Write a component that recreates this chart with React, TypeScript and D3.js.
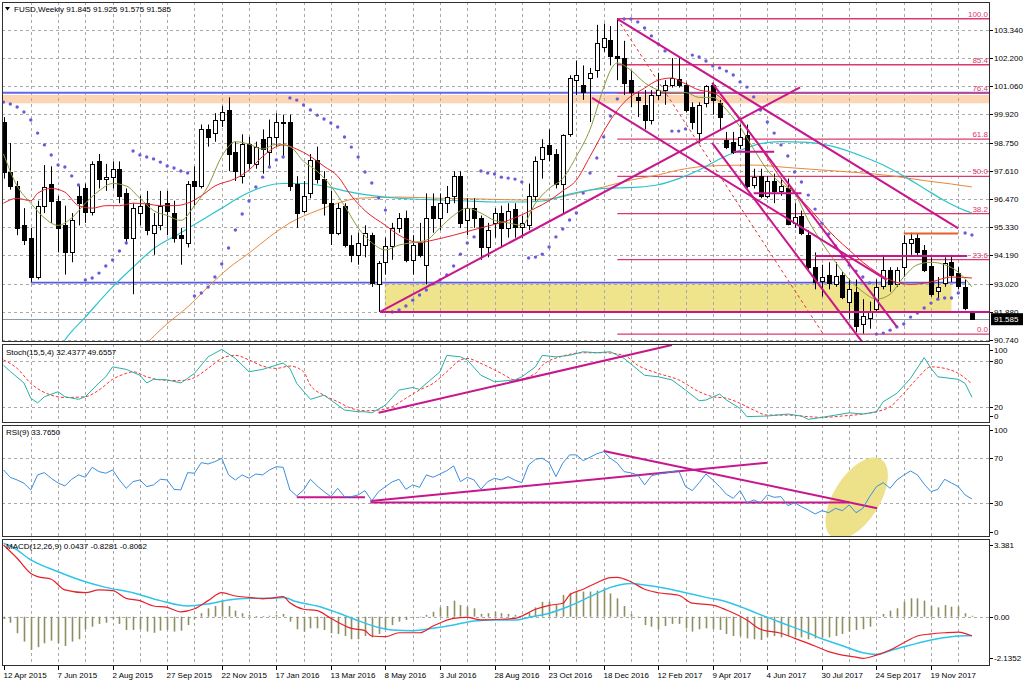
import React from "react";
import * as d3 from "d3";

// ---------- DATA ----------
const openP = [
  99.6, 97.55, 97.0, 95.4, 94.9, 93.3, 96.2, 97.1, 96.4, 95.4,
  94.3, 96.6, 96.9, 95.95, 98.0, 97.3, 97.35, 97.7, 96.7, 94.9,
  95.9, 96.3, 95.1, 95.4, 96.3, 95.9, 95.0, 94.7, 97.2, 97.0,
  99.3, 99.15, 99.7, 100.1, 98.4, 97.4, 98.7, 97.9, 98.9, 98.4,
  99.0, 99.55, 99.6, 97.1, 96.0, 96.7, 98.06, 97.3, 96.3, 95.1,
  96.2, 94.6, 94.2, 94.6, 95.0, 93.0, 93.9, 94.55, 95.3, 95.7,
  94.0, 94.7, 93.8, 96.2, 95.7, 96.3, 96.6, 97.4, 95.6, 96.1,
  95.7, 94.5, 95.5, 95.9, 95.3, 96.06, 95.33, 95.4, 96.6, 98.1,
  98.66, 98.3, 97.1, 99.1, 101.3, 101.1, 101.4, 101.7, 102.65, 102.93,
  102.3, 102.2, 101.3, 100.6, 100.3, 99.7, 100.7, 100.9, 101.1, 101.35,
  101.1, 100.2, 99.15, 100.37, 101.1, 100.37, 98.87, 98.8, 98.66, 99.07,
  97.04, 97.4, 96.6, 97.2, 96.8, 96.9, 95.5, 95.8, 95.0, 93.7,
  93.15, 93.4, 93.0, 93.4, 92.3, 92.7, 91.4, 91.65, 92.0, 92.95,
  93.6, 93.0, 93.7, 94.7, 94.9, 94.4, 93.75, 92.75, 93.05, 93.9,
  93.45, 92.9, 91.845,
];
const highP = [
  99.8, 98.75, 97.2, 96.1, 95.3, 96.4, 97.85, 97.8, 96.6, 96.2,
  95.9, 97.0, 97.1, 98.0, 98.3, 97.9, 98.0, 98.0, 96.9, 96.3,
  96.6, 96.8, 95.9, 96.8, 96.8, 96.4, 95.3, 97.2, 97.8, 99.5,
  99.5, 99.96, 100.25, 100.6, 98.8, 99.1, 99.0, 98.8, 99.3, 99.7,
  99.96, 99.9, 99.9, 97.4, 97.2, 98.3, 98.6, 97.6, 96.8, 96.3,
  96.3, 95.0, 95.1, 95.4, 95.1, 93.95, 94.9, 95.5, 95.9, 96.0,
  95.0, 95.5, 96.7, 96.7, 96.7, 97.0, 97.6, 97.6, 96.5, 96.5,
  95.8, 95.5, 96.1, 96.2, 96.3, 96.3, 95.8, 97.1, 98.2, 98.9,
  99.3, 98.5, 99.1, 101.5, 102.1, 101.9, 101.8, 103.55, 103.6, 103.5,
  103.8, 102.9, 101.7, 100.8, 100.9, 100.9, 101.6, 101.3, 102.2, 102.2,
  101.2, 100.4, 100.4, 101.1, 101.2, 100.5, 99.2, 99.2, 99.5, 99.5,
  97.7, 97.7, 97.4, 97.5, 97.3, 97.3, 96.3, 96.0, 95.2, 94.3,
  93.8, 93.9, 93.9, 93.5, 93.2, 93.2, 92.4, 92.3, 93.2, 94.2,
  93.7, 93.7, 95.0, 95.1, 95.05, 94.6, 94.1, 93.3, 94.1, 94.2,
  93.7, 93.2, 91.925,
];
const lowP = [
  97.3, 96.85, 95.0, 94.6, 93.1, 93.2, 95.9, 95.5, 94.3, 93.4,
  93.9, 95.4, 95.5, 95.8, 96.9, 96.8, 96.9, 96.3, 94.7, 92.6,
  95.4, 95.0, 94.2, 95.2, 95.0, 94.7, 93.8, 94.5, 96.2, 96.9,
  98.6, 98.8, 99.4, 97.6, 97.2, 97.1, 97.7, 97.7, 97.5, 97.8,
  98.6, 98.2, 96.8, 95.3, 95.9, 96.5, 97.1, 95.8, 94.6, 95.0,
  94.5, 93.9, 93.8, 94.1, 92.9, 91.88, 93.4, 94.0, 95.1, 93.9,
  93.4, 94.1, 93.0, 95.1, 95.2, 95.9, 96.3, 95.3, 95.0, 95.3,
  94.0, 94.1, 94.9, 94.5, 94.9, 94.9, 94.9, 95.2, 96.4, 97.3,
  98.0, 96.9, 95.9, 99.0, 100.7, 100.5, 99.6, 101.4, 102.45, 101.9,
  101.3, 100.7, 100.2, 99.8, 99.3, 99.5, 100.5, 100.3, 101.0, 101.0,
  100.0, 99.3, 98.75, 100.2, 99.9, 99.3, 98.5, 98.3, 98.5, 96.9,
  96.9, 96.5, 96.5, 96.3, 96.6, 95.4, 95.3, 95.0, 93.6, 92.8,
  92.5, 92.8, 92.9, 92.4, 91.6, 91.05, 91.0, 91.2, 91.9, 92.8,
  92.7, 92.9, 93.3, 94.2, 94.2, 93.5, 92.5, 92.4, 92.9, 93.1,
  92.8, 91.95, 91.575,
];
const closeP = [
  97.55, 97.0, 95.3, 94.8, 93.3, 96.2, 96.95, 96.4, 95.3, 94.3,
  95.6, 96.3, 95.95, 97.9, 97.3, 97.35, 97.7, 96.6, 94.9, 96.1,
  96.2, 95.2, 95.4, 96.2, 96.0, 94.9, 94.9, 97.1, 97.0, 99.3,
  99.0, 99.7, 100.0, 98.3, 97.6, 98.7, 97.95, 98.6, 98.5, 99.0,
  99.6, 99.6, 97.0, 95.9, 96.6, 98.05, 97.3, 96.3, 95.1, 96.1,
  94.6, 94.2, 94.7, 95.1, 93.05, 93.85, 94.55, 95.3, 95.7, 94.0,
  94.6, 94.2, 95.7, 95.7, 96.3, 96.55, 97.4, 95.5, 96.1, 95.7,
  94.5, 95.2, 95.9, 95.3, 96.0, 95.33, 95.5, 96.6, 98.0, 98.6,
  98.3, 97.1, 99.07, 101.4, 101.5, 100.8, 101.6, 102.8, 103.0, 102.3,
  102.2, 101.2, 100.8, 100.5, 99.7, 100.7, 100.9, 101.1, 101.4, 101.1,
  100.1, 99.6, 100.3, 101.05, 100.5, 99.8, 98.6, 98.4, 99.0, 97.0,
  97.36, 96.6, 97.2, 96.8, 97.0, 95.45, 95.75, 95.1, 93.7, 93.1,
  93.3, 93.05, 93.35, 92.5, 92.8, 91.3, 91.7, 91.9, 92.9, 93.6,
  93.0, 93.6, 94.7, 94.85, 94.3, 93.6, 92.6, 92.9, 93.85, 93.4,
  92.95, 92.05, 91.585,
];

const dateLabels = [
  "12 Apr 2015", "7 Jun 2015", "2 Aug 2015", "27 Sep 2015", "22 Nov 2015",
  "17 Jan 2016", "13 Mar 2016", "8 May 2016", "3 Jul 2016", "28 Aug 2016",
  "23 Oct 2016", "18 Dec 2016", "12 Feb 2017", "9 Apr 2017", "4 Jun 2017",
  "30 Jul 2017", "24 Sep 2017", "19 Nov 2017",
];
const priceTicks = [103.34, 102.2, 101.06, 99.92, 98.75, 97.61, 96.47, 95.33, 94.19, 93.02, 91.88, 90.74];

// moving averages: [bar, price]
const maOlive: [number, number][] = [
  [0, 98.3], [2, 97.0], [4, 96.3], [6, 95.7], [8, 95.4], [10, 95.7], [12, 96.3], [14, 96.8],
  [16, 97.1], [18, 97.0], [20, 96.5], [22, 96.0], [24, 95.8], [26, 95.6], [28, 96.2], [30, 97.0],
  [32, 98.2], [34, 98.8], [36, 98.7], [38, 98.5], [40, 98.7], [42, 98.6], [44, 98.0], [46, 97.6],
  [48, 97.0], [50, 96.2], [52, 95.3], [54, 94.7], [56, 94.4], [58, 94.6], [60, 94.7], [62, 94.8],
  [64, 95.3], [66, 95.8], [68, 96.1], [70, 95.9], [72, 95.6], [74, 95.5], [76, 95.4], [78, 96.3],
  [80, 96.9], [82, 97.3], [84, 98.2], [86, 99.3], [88, 101.0], [89, 101.7], [90, 102.0], [92, 101.7],
  [94, 101.2], [96, 100.9], [98, 100.8], [100, 100.8], [102, 100.6], [104, 100.6], [106, 100.1],
  [108, 99.4], [110, 98.5], [112, 97.65], [114, 97.1], [116, 96.7], [118, 95.6], [120, 94.7],
  [122, 93.9], [124, 93.2], [126, 92.7], [128, 92.4], [130, 92.6], [132, 93.3], [134, 93.8],
  [136, 93.9], [138, 93.8], [140, 93.5], [142, 92.9],
];
const maRed: [number, number][] = [
  [0, 96.3], [2, 96.5], [4, 96.4], [5, 96.7], [7, 96.9], [9, 96.75], [11, 96.2], [13, 96.1],
  [15, 96.2], [17, 96.2], [19, 96.3], [21, 96.27], [23, 96.2], [25, 96.2], [27, 96.3], [29, 96.6],
  [31, 97.0], [34, 97.3], [36, 97.65], [38, 98.2], [41, 98.67], [43, 98.5], [45, 98.2], [47, 97.8],
  [49, 97.4], [51, 96.6], [53, 96.0], [56, 95.4], [58, 95.0], [61, 94.7], [63, 94.8], [66, 95.0],
  [70, 95.3], [74, 95.6], [78, 96.1], [80, 96.4], [82, 96.8], [84, 97.24], [86, 98.2], [89, 99.68],
  [91, 100.4], [94, 100.98], [96, 101.3], [98, 101.39], [100, 101.15], [102, 100.9], [104, 100.8],
  [106, 100.37], [108, 99.76], [110, 98.95], [112, 98.14], [114, 97.3], [116, 96.7], [118, 96.14],
  [120, 95.5], [122, 94.9], [124, 94.4], [126, 93.9], [128, 93.5], [130, 93.18], [133, 93.0],
  [136, 93.1], [139, 93.3], [142, 93.26],
];
const maCyan: [number, number][] = [
  [8, 90.3], [9, 90.74], [12, 91.67], [16, 92.9], [19, 93.7], [22, 94.45], [26, 95.1], [29, 95.6],
  [32, 96.1], [35, 96.6], [38, 96.96], [41, 97.1], [44, 97.1], [47, 97.0], [50, 96.8], [53, 96.65],
  [56, 96.55], [60, 96.47], [64, 96.43], [68, 96.39], [72, 96.35], [76, 96.35], [79, 96.39],
  [83, 96.67], [88, 96.9], [93, 96.95], [96, 97.05], [99, 97.3], [102, 97.65], [105, 98.1],
  [108, 98.45], [111, 98.72], [114, 98.8], [117, 98.78], [120, 98.7], [123, 98.5], [126, 98.2],
  [129, 97.85], [132, 97.4], [135, 96.9], [138, 96.4], [141, 96.0], [142, 95.9],
];
const maOrange: [number, number][] = [
  [20, 90.3], [21, 90.6], [24, 91.4], [27, 92.08], [30, 92.9], [33, 93.66], [36, 94.27], [39, 94.93],
  [42, 95.5], [46, 96.0], [49, 96.3], [52, 96.5], [58, 96.55], [64, 96.5], [70, 96.47], [76, 96.43],
  [80, 96.47], [84, 96.7], [88, 96.96], [92, 97.24], [96, 97.45], [99, 97.65], [104, 97.82],
  [110, 97.85], [115, 97.75], [120, 97.65], [125, 97.55], [130, 97.42], [135, 97.22], [139, 97.08],
  [142, 96.96],
];
// parabolic SAR, one per bar
const sar = [
  100.41, 100.33, 100.21, 100.01, 99.68, 99.15, 98.67, 98.26, 97.85, 97.77,
  97.41, 97.04, 93.18, 93.26, 93.46, 93.75, 93.99, 94.36, 94.68, 98.42,
  98.26, 98.18, 98.1, 97.97, 97.81, 97.73, 97.61, 97.53, 92.53, 92.65,
  92.89, 93.3, 93.83, 94.48, 95.21, 95.86, 96.39, 96.96, 97.36, 97.77,
  98.06, 98.18, 100.58, 100.49, 100.29, 100.09, 99.88, 99.72, 99.56, 99.4,
  98.99, 98.58, 98.18, 97.57, 97.12, 96.51, 96.02, 91.88, 91.96, 92.12,
  92.36, 92.57, 92.77, 93.02, 93.18, 93.38, 93.75, 94.23, 94.68, 94.93,
  97.61, 97.53, 97.49, 97.36, 97.32, 97.28, 97.16, 94.07, 94.11, 94.23,
  94.52, 94.93, 95.25, 95.62, 95.9, 96.71, 97.53, 98.14, 98.99, 99.84,
  100.54, 103.79, 103.79, 103.67, 103.42, 103.1, 102.77, 102.49, 99.23, 99.23,
  99.32, 102.32, 102.24, 102.08, 101.88, 101.8, 101.67, 101.51, 101.23, 101.02,
  100.62, 100.09, 99.6, 99.15, 98.67, 98.22, 97.57, 97.16, 96.63, 96.06,
  95.49, 95.05, 94.56, 94.11, 93.79, 93.54, 93.3, 93.06, 90.98, 91.02,
  91.14, 91.27, 91.39, 91.67, 91.84, 92.04, 92.24, 92.4, 92.45, 92.45,
  92.65, 95.09, 95.01,
];

const stochMain: [number, number][] = [
  [0, 74], [1, 66], [3, 51], [4, 31], [5, 25], [6, 33], [8, 39.5], [9, 33], [11, 29.6], [12, 33],
  [14, 51], [15, 59], [16, 72], [18, 68.7], [20, 61], [21, 51], [22, 55.7], [24, 55], [26, 51],
  [27, 57], [28, 63.5], [30, 85], [32, 94.8], [34, 83], [36, 65.6], [38, 68.7], [41, 77], [42, 70],
  [43, 50.4], [45, 29.6], [47, 35], [48, 28.7], [50, 15.6], [52, 13.4], [53, 13.4], [54, 12],
  [56, 22], [58, 41.7], [60, 45], [61, 42.6], [64, 65.6], [65, 87], [67, 85], [68, 81], [70, 61],
  [72, 52.5], [75, 55], [76, 59], [78, 72], [79, 87], [81, 85], [83, 87], [85, 91.7], [87, 90.4],
  [89, 91.7], [91, 83], [94, 61], [96, 59], [98, 55], [100, 41.7], [102, 27.8], [103, 28.7],
  [105, 36.5], [106, 28.7], [108, 17.8], [109, 7], [112, 7.8], [115, 10.4], [117, 7.8], [118, 3.5],
  [120, 6], [122, 9], [124, 12], [126, 10.4], [128, 13.4], [129, 26.5], [131, 37.4], [133, 57],
  [135, 84], [136, 70], [137, 59], [140, 55.7], [141, 50.4], [142, 32.4],
];
const stochSignal: [number, number][] = [
  [0, 81], [2, 70], [4, 50.4], [7, 35], [9, 32], [12, 33], [14, 41.7], [16, 55.7], [18, 63.5],
  [19, 65.6], [21, 59], [23, 55], [26, 54], [28, 58], [30, 70], [32, 83], [34, 87], [36, 81],
  [38, 73], [40, 70], [42, 73], [44, 65.6], [45, 48], [47, 35], [49, 26.5], [51, 17.8], [53, 14.7],
  [55, 15.6], [57, 20], [59, 31], [61, 41.7], [63, 50.4], [65, 65.6], [67, 81], [68, 83], [70, 76.5],
  [73, 63.5], [75, 55], [78, 63.5], [79, 74], [82, 86], [85, 90.4], [88, 90.4], [91, 87], [93, 74],
  [96, 63.5], [99, 55], [102, 39.5], [104, 33], [106, 31], [108, 24.4], [110, 15.6], [112, 9],
  [115, 9], [118, 7], [120, 6], [123, 7.8], [126, 10.4], [128, 13.4], [130, 20], [132, 37.4],
  [134, 57], [136, 72], [138, 70], [140, 63.5], [142, 49.7],
];
const rsi = [
  59.6, 53, 50.7, 47.8, 41.8, 55.2, 57.2, 52.2, 48, 45.4,
  51.3, 55.2, 53.1, 62, 58.1, 56.7, 59.6, 50.7, 43.3, 49.2,
  50.7, 44.8, 46.3, 51.3, 50.7, 42.4, 41.8, 57.2, 56.7, 66.1,
  64.9, 67, 70, 55.2, 50.7, 55.2, 52.2, 56, 55.2, 59.6,
  62.5, 62, 41.8, 36.5, 41.8, 51.3, 45.4, 40.3, 35.9, 43.3,
  35.9, 35.9, 37.4, 41.2, 32.3, 40.3, 44.8, 49, 51.3, 42.4,
  46.3, 44.2, 55.2, 53.1, 56, 59, 63.2, 49.2, 53.1, 50.7,
  42.4, 49.2, 52.2, 50.7, 53.7, 50.5, 48.3, 64, 69.1, 70,
  66.1, 53.7, 65.6, 73, 73, 67.9, 70.9, 74, 75.9, 70,
  65.6, 58.1, 57, 55.2, 46.3, 54.3, 56, 56.7, 58.1, 59,
  44.8, 41.2, 48.3, 56, 50.7, 44.8, 38, 34.4, 41.2, 30.5,
  32.9, 30.5, 37.4, 35.3, 35.9, 27.9, 30.5, 27, 24, 20.5,
  23.4, 21.6, 25.5, 23.4, 28.5, 21.6, 25.5, 35.9, 44.8, 48.3,
  43.3, 50.7, 55, 58.7, 55.2, 47, 40.3, 42.4, 51.3, 48,
  44.8, 37.4, 33.8,
];
const macdHist = [
  -0.1, -0.26, -0.71, -1.07, -1.43, -1.31, -1.14, -1.03, -1.14, -1.26,
  -1.07, -0.97, -0.54, -0.43, -0.31, -0.26, -0.11, -0.31, -0.57, -0.57,
  -0.54, -0.64, -0.69, -0.6, -0.57, -0.64, -0.6, -0.36, -0.11, 0.15,
  0.36, 0.46, 0.69, 0.46, 0.26, 0.15, 0.08, 0.03, 0.03, 0.04,
  0.08, 0.12, -0.21, -0.54, -0.64, -0.5, -0.5, -0.57, -0.71, -0.74,
  -0.83, -0.97, -0.97, -0.83, -0.89, -0.74, -0.57, -0.36, -0.21, -0.14,
  -0.03, -0.03, 0.08, 0.21, 0.4, 0.46, 0.69, 0.5, 0.43, 0.36,
  0.12, 0.15, 0.21, 0.15, 0.12, 0.08, 0.03, 0.15, 0.4, 0.64,
  0.64, 0.5, 0.93, 1.03, 1.08, 1.08, 1.08, 1.12, 1.22, 1.0,
  0.79, 0.46, 0.12, -0.03, -0.36, -0.43, -0.54, -0.4, -0.31, -0.31,
  -0.5, -0.64, -0.54, -0.5, -0.54, -0.57, -0.74, -0.83, -0.83, -0.93,
  -0.97, -1.0, -0.86, -0.83, -0.89, -0.83, -0.86, -0.89, -0.97, -0.93,
  -0.89, -0.89, -0.83, -0.74, -0.64, -0.57, -0.54, -0.43, -0.03, 0.12,
  0.26, 0.36, 0.64, 0.79, 0.79, 0.69, 0.46, 0.4, 0.5, 0.43,
  0.43, 0.15, 0.04,
];
const macdMain: [number, number][] = [
  [0, 3.08], [2, 2.51], [4, 1.86], [5, 1.72], [7, 1.61], [9, 1.15], [12, 1.03], [14, 1.15],
  [16, 1.12], [18, 0.79], [20, 0.69], [22, 0.46], [24, 0.4], [26, 0.21], [28, 0.34], [30, 0.69],
  [32, 1.03], [34, 0.89], [36, 0.83], [38, 0.77], [39, 0.79], [41, 0.86], [42, 0.6], [44, 0.32],
  [46, 0.26], [48, -0.07], [51, -0.5], [53, -0.6], [54, -0.83], [56, -0.86], [58, -0.69],
  [61, -0.69], [63, -0.4], [66, -0.07], [68, -0.03], [70, -0.14], [73, -0.11], [75, -0.07],
  [76, 0.03], [78, 0.32], [80, 0.49], [82, 0.58], [83, 0.93], [85, 1.18], [87, 1.46], [89, 1.68],
  [90, 1.69], [92, 1.5], [94, 1.18], [96, 1.03], [99, 0.92], [101, 0.58], [104, 0.5], [106, 0.29],
  [109, -0.14], [111, -0.54], [114, -0.71], [116, -0.93], [119, -1.26], [121, -1.5], [123, -1.65],
  [125, -1.74], [126, -1.79], [128, -1.65], [130, -1.43], [132, -1.12], [134, -0.83], [136, -0.74],
  [138, -0.69], [140, -0.66], [142, -0.83],
];
const macdSignal: [number, number][] = [
  [0, 3.15], [1, 3.05], [4, 2.44], [8, 1.93], [12, 1.5], [15, 1.26], [19, 1.03], [23, 0.69],
  [27, 0.46], [30, 0.55], [33, 0.72], [36, 0.79], [39, 0.79], [41, 0.82], [43, 0.64], [46, 0.46],
  [49, 0.17], [52, -0.17], [55, -0.46], [57, -0.57], [60, -0.6], [63, -0.5], [66, -0.36],
  [69, -0.18], [72, -0.14], [75, -0.14], [77, -0.03], [80, 0.15], [83, 0.46], [86, 0.86],
  [89, 1.26], [92, 1.43], [94, 1.36], [97, 1.22], [100, 1.03], [103, 0.83], [106, 0.64],
  [109, 0.32], [112, -0.03], [115, -0.36], [118, -0.7], [120, -0.95], [123, -1.25], [126, -1.55],
  [128, -1.62], [130, -1.46], [133, -1.22], [136, -1.0], [139, -0.86], [142, -0.81],
];

const fibLevels = [0, 23.6, 38.2, 50, 61.8, 76.4, 85.4, 100];
const fibLow = 90.98;
const fibHigh = 103.8;
const fibStartBar = 90;

// drawn objects in data space: [bar, price]
const trendLines: [number, number][][] = [
  [[55.2, 91.88], [116.8, 101.01]],
  [[90, 103.79], [140, 95.28]],
  [[86.3, 100.58], [129.5, 93.18]],
  [[103.9, 98.75], [125.9, 90.66]],
  [[103.9, 101.19], [131, 91.27]],
];
const levelLines: [number, number, number][] = [
  [107, 113, 98.39],
  [110, 117, 96.7],
  [119, 141.3, 94.15],
  [55.2, 146, 91.88],
];
const resistanceLine: [number, number, number] = [132, 140, 95.07];
const fibDiagonal: [number, number][] = [[90, 103.79], [120.2, 90.98]];
const blueTop = 100.79;
const bandTop = 100.7;
const bandBottom = 100.36;
const blueLow: [number, number, number] = [4, 141, 93.07];
const yellowZone: [number, number, number, number] = [55.9, 139, 93.03, 91.89];
const bidPrice = 91.585;

const stochTrend: [number, number][] = [[55, 12.1], [98, 100.4]];
const rsiLines: [number, number][][] = [
  [[43, 35.3], [53, 35.3]],
  [[53.8, 30.7], [124, 30.7]],
  [[53.8, 32.0], [112, 66.1]],
  [[88, 76.5], [128.1, 25.6]],
];
const rsiEllipseCenter: [number, number] = [125.1, 34.4];

// ---------- COMPONENT ----------
const FONT = "'Liberation Sans', Arial, sans-serif";

export default function App() {
  const W = 1024;
  const H = 683;
  const L = 2;
  const R = 990;
  const pMain = [2, 342];
  const pStoch = [344, 423];
  const pRsi = [425, 537];
  const pMacd = [539, 666];

  const x = d3.scaleLinear().domain([0, 142]).range([3.5, 3.5 + 142 * 6.82]);
  const yM = d3.scaleLinear().domain([90.74, 103.34]).range([340, 30]);
  const yS = d3.scaleLinear().domain([0, 100]).range([422, 345.4]);
  const yR = d3.scaleLinear().domain([0, 100]).range([537, 424.5]);
  const yD = d3.scaleLinear().domain([-2.1352, 3.381]).range([666.4, 538]);

  const gridBars = d3.range(4, 141, 4);
  const grid = "#a9a9a9";
  const dash = "3 3";
  const magenta = "#c8168c";
  const fibColor = "#dd3a6c";

  const lineOf = (ys: d3.ScaleLinear<number, number>, curve: d3.CurveFactory = d3.curveLinear) =>
    d3
      .line<[number, number]>()
      .x((d) => x(d[0]))
      .y((d) => ys(d[1]))
      .curve(curve);

  const smoothM = lineOf(yM, d3.curveMonotoneX);
  const straightM = lineOf(yM);
  const lineS = lineOf(yS);
  const smoothS = lineOf(yS, d3.curveMonotoneX);
  const lineR = lineOf(yR);
  const smoothD = lineOf(yD, d3.curveMonotoneX);

  const rsiPts = rsi.map((v, i) => [i, v] as [number, number]);

  const paneRect = (p: number[], id: string) => (
    <clipPath id={id}>
      <rect x={L} y={p[0]} width={R - L} height={p[1] - p[0]} />
    </clipPath>
  );

  const vGrid = (p: number[]) =>
    gridBars.map((b) => (
      <line key={b} x1={Math.round(x(b)) + 0.5} x2={Math.round(x(b)) + 0.5} y1={p[0]} y2={p[1]} stroke={grid} strokeDasharray={dash} />
    ));

  const hGrid = (ys: number[], k: string) =>
    ys.map((yy, i) => (
      <line key={k + i} x1={L} x2={R} y1={Math.round(yy) + 0.5} y2={Math.round(yy) + 0.5} stroke={grid} strokeDasharray={dash} />
    ));

  const axisText = (label: string, yy: number, key: string) => (
    <g key={key}>
      <line x1={R} x2={R + 3} y1={Math.round(yy) + 0.5} y2={Math.round(yy) + 0.5} stroke="#000" />
      <text x={R + 4} y={yy + 3} fontSize={8} fontFamily={FONT} fill="#000">
        {label}
      </text>
    </g>
  );

  const [ex, ey] = [x(rsiEllipseCenter[0]), yR(rsiEllipseCenter[1])];

  return (
    <svg
      width={W}
      height={H}
      viewBox={`0 0 ${W} ${H}`}
      style={{ position: "fixed", left: 0, top: 0, background: "#fff" }}
      xmlns="http://www.w3.org/2000/svg"
    >
      <defs>
        {paneRect(pMain, "cMain")}
        {paneRect(pStoch, "cStoch")}
        {paneRect(pRsi, "cRsi")}
        {paneRect(pMacd, "cMacd")}
      </defs>
      <rect x={0} y={0} width={W} height={H} fill="#fff" />

      {/* ---------------- MAIN PANE ---------------- */}
      <g clipPath="url(#cMain)">
        <rect x={L} y={yM(bandTop)} width={R - L} height={yM(bandBottom) - yM(bandTop)} fill="#fcd6b4" />
        <rect
          x={x(yellowZone[0])}
          y={yM(yellowZone[2])}
          width={x(yellowZone[1]) - x(yellowZone[0])}
          height={yM(yellowZone[3]) - yM(yellowZone[2])}
          fill="#efe38c"
        />
        {vGrid(pMain)}
        {hGrid(priceTicks.map((p) => yM(p)), "pg")}

        <line x1={L} x2={R} y1={yM(blueTop)} y2={yM(blueTop)} stroke="#6464ee" strokeWidth={2} />
        <line x1={x(blueLow[0])} x2={x(blueLow[1])} y1={yM(blueLow[2])} y2={yM(blueLow[2])} stroke="#5a5ae0" strokeWidth={1.6} />
        <line x1={L} x2={R} y1={Math.round(yM(bidPrice)) + 0.5} y2={Math.round(yM(bidPrice)) + 0.5} stroke="#8c9aa6" strokeWidth={1} />

        {fibLevels.map((lv) => {
          const p = fibLow + ((fibHigh - fibLow) * lv) / 100;
          const yy = yM(p);
          return (
            <g key={"f" + lv}>
              <line x1={x(fibStartBar)} x2={R} y1={yy} y2={yy} stroke={fibColor} strokeWidth={1.4} />
              <text x={R - 2} y={yy - 2} textAnchor="end" fontSize={8} fontFamily={FONT} fill={fibColor}>
                {lv.toFixed(1)}
              </text>
            </g>
          );
        })}
        <path d={straightM(fibDiagonal) || ""} stroke="#e03030" strokeWidth={1} strokeDasharray="3 3" fill="none" />

        <path d={smoothM(maOrange) || ""} stroke="#e8883c" strokeWidth={1} fill="none" />
        <path d={smoothM(maCyan) || ""} stroke="#2cc4cc" strokeWidth={1.2} fill="none" />

        {openP.map((o, i) => {
          const c = closeP[i];
          const cx = Math.round(x(i)) + 0.5;
          const yt = Math.round(yM(Math.max(o, c))) + 0.5;
          const yb = Math.round(yM(Math.min(o, c))) + 0.5;
          const up = c >= o;
          return (
            <g key={"c" + i}>
              <line x1={cx} x2={cx} y1={yM(highP[i])} y2={yM(lowP[i])} stroke="#000" strokeWidth={1} />
              <rect x={cx - 2} y={yt} width={4} height={Math.max(1, yb - yt)} fill={up ? "#fff" : "#000"} stroke="#000" strokeWidth={1} />
            </g>
          );
        })}

        <path d={smoothM(maRed) || ""} stroke="#e8202c" strokeWidth={1} fill="none" />
        <path d={smoothM(maOlive) || ""} stroke="#8a9a3a" strokeWidth={1} fill="none" />

        {sar.map((v, i) => (
          <circle key={"s" + i} cx={x(i)} cy={yM(v)} r={1.7} fill="#6a5cd8" />
        ))}

        {trendLines.map((seg, i) => (
          <path key={"t" + i} d={straightM(seg) || ""} stroke={magenta} strokeWidth={2} fill="none" />
        ))}
        {levelLines.map((l, i) => (
          <line key={"l" + i} x1={x(l[0])} x2={x(l[1])} y1={yM(l[2])} y2={yM(l[2])} stroke={magenta} strokeWidth={2} />
        ))}
        <line x1={x(resistanceLine[0])} x2={x(resistanceLine[1])} y1={yM(resistanceLine[2])} y2={yM(resistanceLine[2])} stroke="#e8602a" strokeWidth={2} />
      </g>

      {/* ---------------- STOCH PANE ---------------- */}
      <g clipPath="url(#cStoch)">
        {vGrid(pStoch)}
        {hGrid([yS(80), yS(20)], "sg")}
        <path d={smoothS(stochSignal) || ""} stroke="#ff3030" strokeWidth={1} strokeDasharray="3 2" fill="none" />
        <path d={lineS(stochMain) || ""} stroke="#26b0a6" strokeWidth={1} fill="none" />
        <path d={lineS(stochTrend) || ""} stroke={magenta} strokeWidth={2} fill="none" />
      </g>

      {/* ---------------- RSI PANE ---------------- */}
      <g clipPath="url(#cRsi)">
        {vGrid(pRsi)}
        {hGrid([yR(70), yR(30)], "rg")}
        <ellipse cx={ex} cy={ey} rx={46} ry={23} transform={`rotate(-58 ${ex} ${ey})`} fill="#ede28a" />
        {rsiLines.map((seg, i) => (
          <path key={"r" + i} d={lineR(seg) || ""} stroke={magenta} strokeWidth={2} fill="none" />
        ))}
        <path d={lineR(rsiPts) || ""} stroke="#3a8fde" strokeWidth={1} fill="none" />
      </g>

      {/* ---------------- MACD PANE ---------------- */}
      <g clipPath="url(#cMacd)">
        {vGrid(pMacd)}
        {hGrid([yD(0)], "mg")}
        {macdHist.map((v, i) => (
          <line key={"h" + i} x1={Math.round(x(i)) + 0.5} x2={Math.round(x(i)) + 0.5} y1={yD(0)} y2={yD(v)} stroke="#8e8e62" strokeWidth={1.6} />
        ))}
        <path d={smoothD(macdSignal) || ""} stroke="#30c4ea" strokeWidth={1.5} fill="none" />
        <path d={smoothD(macdMain) || ""} stroke="#e8202c" strokeWidth={1.2} fill="none" />
      </g>

      {[pMain, pStoch, pRsi, pMacd].map((p, i) => (
        <rect key={"fr" + i} x={L + 0.5} y={p[0] + 0.5} width={R - L - 1} height={p[1] - p[0] - 1} fill="none" stroke="#303030" strokeWidth={1} />
      ))}

      <polygon points="5,7 10,7 7.5,10.5" fill="#000" />
      <text x={14} y={12} fontSize={8} fontFamily={FONT} fill="#000">
        FUSD,Weekly  91.845 91.925 91.575 91.585
      </text>
      <text x={6} y={pStoch[0] + 11} fontSize={8} fontFamily={FONT} fill="#000">
        Stoch(15,5,4) 32.4377 49.6557
      </text>
      <text x={6} y={pRsi[0] + 10} fontSize={8} fontFamily={FONT} fill="#000">
        RSI(9) 33.7650
      </text>
      <text x={6} y={pMacd[0] + 10} fontSize={8} fontFamily={FONT} fill="#000">
        MACD(12,26,9) 0.0437 -0.8281 -0.8062
      </text>

      {priceTicks.map((p, i) => axisText(p.toFixed(3), yM(p), "pt" + i))}
      {axisText("100", yS(100) + 5, "s100")}
      {axisText("80", yS(80), "s80")}
      {axisText("20", yS(20), "s20")}
      {axisText("0", yS(0) - 6, "s0")}
      {axisText("100", yR(100) + 5.5, "r100")}
      {axisText("70", yR(70), "r70")}
      {axisText("30", yR(30), "r30")}
      {axisText("0", yR(0) - 5.5, "r0")}
      {axisText("3.381", yD(3.381) + 7, "m1")}
      {axisText("0.00", yD(0), "m0")}
      {axisText("-2.1352", yD(-2.1352) - 8, "m2")}

      <rect x={R + 1} y={yM(bidPrice) - 6} width={32} height={12} fill="#000" />
      <text x={R + 4} y={yM(bidPrice) + 3} fontSize={8} fontFamily={FONT} fill="#fff">
        {bidPrice.toFixed(3)}
      </text>

      {dateLabels.map((d, i) => {
        const xx = Math.round(x(i * 8)) + 0.5;
        return (
          <g key={"d" + i}>
            <line x1={xx} x2={xx} y1={pMacd[1]} y2={pMacd[1] + 4} stroke="#000" />
            <text x={xx - 1} y={678} fontSize={8} fontFamily={FONT} fill="#000">
              {d}
            </text>
          </g>
        );
      })}
    </svg>
  );
}
